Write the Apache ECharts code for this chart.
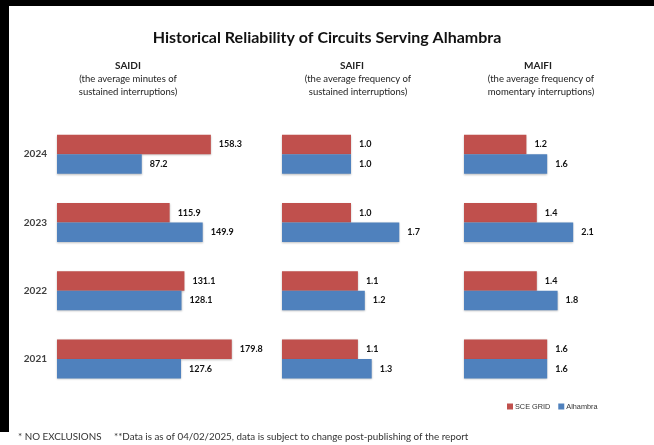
<!DOCTYPE html>
<html>
<head>
<meta charset="utf-8">
<script src="https://cdn.jsdelivr.net/npm/echarts@6/dist/echarts.min.js"></script>
<style>
  html, body { margin: 0; padding: 0; background: #fff; }
  #chart { width: 654px; height: 445px; }
</style>
</head>
<body>
<div id="chart"></div>
<script>
// data
const years = ['2024', '2023', '2022', '2021']
const saidiSce = [158.3, 115.9, 131.1, 179.8]
const saidiAlh = [87.2, 149.9, 128.1, 127.6]
const saifiSce = [1.0, 1.0, 1.1, 1.1]
const saifiAlh = [1.0, 1.7, 1.2, 1.3]
const maifiSce = [1.2, 1.4, 1.4, 1.6]
const maifiAlh = [1.6, 2.1, 1.8, 1.6]

const RED = '#C0504D'
const BLUE = '#4F81BD'
const cjk = 'Lato, "Noto Sans", sans-serif'

let chart = echarts.init(document.getElementById('chart'))

const gridTop = 120
const gridHeight = 273

function makeSeries(name, color, data, idx) {
  return {
    name: name,
    type: 'bar',
    xAxisIndex: idx,
    yAxisIndex: idx,
    data: data,
    barWidth: 19.5,
    barGap: '0%',
    itemStyle: {
      color: color,
      shadowColor: 'rgba(0,0,0,0.25)',
      shadowBlur: 2,
      shadowOffsetY: 1
    },
    label: {
      show: true,
      position: 'right',
      distance: 8,
      fontFamily: cjk,
      fontWeight: 'bold',
      fontSize: 9,
      color: '#111',
      formatter: function (p) { return p.value.toFixed(1) }
    }
  }
}

function headerText(x, y, text, bold, size) {
  return {
    type: 'text',
    x: x,
    y: y,
    style: {
      text: text,
      fill: '#222',
      font: (bold ? 'bold ' : '') + size + 'px ' + cjk,
      textAlign: 'center',
      textVerticalAlign: 'middle'
    }
  }
}

let option = {
  backgroundColor: '#fff',
  animation: false,
  title: {
    text: 'Historical Reliability of Circuits Serving Alhambra',
    left: 'center',
    top: 25,
    textStyle: {
      fontFamily: cjk,
      fontWeight: 'bold',
      fontSize: 16,
      color: '#111'
    }
  },
  legend: {
    data: ['SCE GRID', 'Alhambra'],
    left: 502,
    top: 398,
    icon: 'rect',
    itemWidth: 6,
    itemHeight: 6,
    itemGap: 8,
    textStyle: {
      fontFamily: 'Liberation Sans, Arial, sans-serif',
      fontSize: 7.3,
      color: '#333',
      padding: [0, 0, 0, -3]
    }
  },
  grid: [
    { left: 57, top: gridTop, width: 243, height: gridHeight },
    { left: 282, top: gridTop, width: 172.5, height: gridHeight },
    { left: 464, top: gridTop, width: 156, height: gridHeight }
  ],
  xAxis: [
    { gridIndex: 0, type: 'value', min: 0, max: 250, show: false },
    { gridIndex: 1, type: 'value', min: 0, max: 2.5, show: false },
    { gridIndex: 2, type: 'value', min: 0, max: 3, show: false }
  ],
  yAxis: [0, 1, 2].map(function (i) {
    return {
      gridIndex: i,
      type: 'category',
      inverse: true,
      data: years,
      axisLine: { show: false },
      axisTick: { show: false },
      axisLabel: {
        show: i === 0,
        margin: 10,
        fontFamily: cjk,
        fontWeight: 'bold',
        fontSize: 10,
        color: '#404040'
      }
    }
  }),
  series: [
    makeSeries('SCE GRID', RED, saidiSce, 0),
    makeSeries('Alhambra', BLUE, saidiAlh, 0),
    makeSeries('SCE GRID', RED, saifiSce, 1),
    makeSeries('Alhambra', BLUE, saifiAlh, 1),
    makeSeries('SCE GRID', RED, maifiSce, 2),
    makeSeries('Alhambra', BLUE, maifiAlh, 2)
  ],
  graphic: [
    { type: 'rect', shape: { x: 0, y: 0, width: 654, height: 6 }, style: { fill: '#000' } },
    { type: 'rect', shape: { x: 0, y: 0, width: 9, height: 432 }, style: { fill: '#000' } },
    headerText(128, 66, 'SAIDI', true, 10),
    headerText(128, 79, '(the average minutes of', false, 9.5),
    headerText(128, 92, 'sustained interruptions)', false, 9.5),
    headerText(352, 66, 'SAIFI', true, 10),
    headerText(358, 79, '(the average frequency of', false, 9.5),
    headerText(358, 92, 'sustained interruptions)', false, 9.5),
    headerText(538, 66, 'MAIFI', true, 10),
    headerText(541, 79, '(the average frequency of', false, 9.5),
    headerText(541, 92, 'momentary interruptions)', false, 9.5),
    {
      type: 'text',
      x: 18,
      y: 437,
      style: {
        text: '* NO EXCLUSIONS     **Data is as of 04/02/2025, data is subject to change post-publishing of the report',
        fill: '#333',
        font: '9.8px ' + cjk,
        textVerticalAlign: 'middle'
      }
    }
  ]
}
chart.setOption(option)
</script>
</body>
</html>
